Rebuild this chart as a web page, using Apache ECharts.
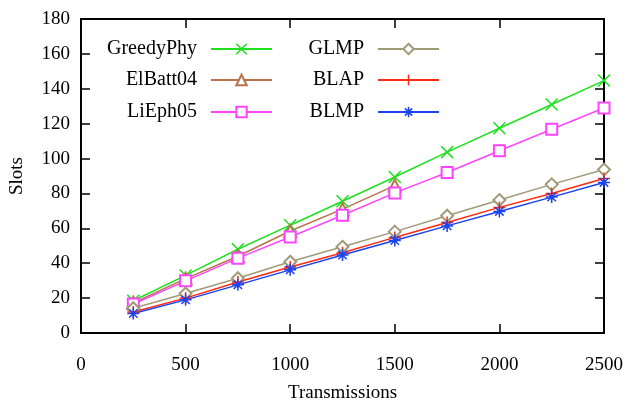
<!DOCTYPE html>
<html>
<head>
<meta charset="utf-8">
<script src="https://cdn.jsdelivr.net/npm/echarts@6/dist/echarts.min.js"></script>
<style>
html, body { margin: 0; padding: 0; background: #fff; }
#chart { width: 626px; height: 403px; }
</style>
</head>
<body>
<div id="chart"></div>
<script>
// x values (transmissions)
const transmissions = [250, 500, 750, 1000, 1250, 1500, 1750, 2000, 2250, 2500];

// slots per algorithm
const greedyPhy = [18.5, 33, 48, 61.8, 75.5, 89.4, 103.7, 117.4, 131, 144.7];
const elBatt04 = [17.3, 31.2, 44, 58.5, 71, 84.5];
const liEph05 = [16.6, 29.9, 42.9, 55, 67.5, 80.3, 92, 104.5, 116.8, 129];
const glmp = [14.2, 22.6, 31.4, 40.8, 49.4, 58.1, 67.2, 76.2, 85.2, 93.7];
const blap = [12, 20, 29.2, 37.8, 46, 54.8, 63.3, 72, 80, 88.6];
const blmp = [11.2, 19, 27.6, 36.2, 44.7, 53, 61.4, 69.7, 77.9, 86.3];

const FONT = '"Liberation Serif", "DejaVu Serif", serif';

function pairs(vals) {
    return vals.map((v, i) => [transmissions[i], v]);
}

function mkSeries(name, vals, color, symbol, size) {
    return {
        name: name,
        type: 'line',
        data: pairs(vals),
        symbol: symbol,
        symbolSize: size,
        showAllSymbol: true,
        lineStyle: { color: color, width: 1.5 },
        itemStyle: { color: color, borderColor: color, borderWidth: 1.5 },
        emphasis: { disabled: true },
        animation: false
    };
}

// legend: one per entry, text right-aligned before the line sample
function mkLegend(name, right, top) {
    return {
        data: [name],
        right: right,
        top: top,
        padding: 0,
        align: 'right',
        itemWidth: 61,
        itemHeight: 13,
        itemStyle: { borderWidth: 1.5 },
        textStyle: { fontFamily: FONT, fontSize: 20, color: '#000', padding: [0, 9, 0, 0] }
    };
}

function axis(extra) {
    return Object.assign({
        show: true,
        type: 'value',
        axisLine: { show: true, onZero: false, lineStyle: { color: '#000', width: 2 } },
        axisTick: { show: true, inside: true, length: 9, lineStyle: { color: '#000', width: 1.5 } },
        splitLine: { show: false }
    }, extra);
}

const gridBox = { left: 81, right: 22, top: 19, bottom: 70, outerBoundsMode: 'none' };

let myChart = echarts.init(document.getElementById('chart'));

myChart.setOption({
    animation: false,
    backgroundColor: '#fff',
    grid: [
        Object.assign({ show: true, borderColor: '#000', borderWidth: 2 }, gridBox),
        // second grid on the same box, only for the mirrored top/right ticks
        Object.assign({ show: false }, gridBox)
    ],
    legend: [
        mkLegend('GreedyPhy', 353, 39),
        mkLegend('ElBatt04', 353, 70),
        mkLegend('LiEph05', 353, 102),
        mkLegend('GLMP', 186, 39),
        mkLegend('BLAP', 186, 70),
        mkLegend('BLMP', 186, 102)
    ],
    xAxis: [
        axis({
            gridIndex: 0, position: 'bottom',
            min: 0, max: 2500, interval: 500,
            name: 'Transmissions', nameLocation: 'middle', nameGap: 51,
            nameTextStyle: { fontFamily: FONT, fontSize: 19, color: '#000' },
            axisLabel: { fontFamily: FONT, fontSize: 19, color: '#000', margin: 23, formatter: v => String(v) }
        }),
        axis({
            gridIndex: 1, position: 'top',
            min: 0, max: 2500, interval: 500,
            axisLabel: { show: false }
        })
    ],
    yAxis: [
        axis({
            gridIndex: 0, position: 'left',
            min: 0, max: 180, interval: 20,
            name: 'Slots', nameLocation: 'middle', nameGap: 54, nameRotate: 90,
            nameTextStyle: { fontFamily: FONT, fontSize: 19, color: '#000' },
            axisLabel: { fontFamily: FONT, fontSize: 19, color: '#000', margin: 11, formatter: v => String(v) }
        }),
        axis({
            gridIndex: 1, position: 'right',
            min: 0, max: 180, interval: 20,
            axisLabel: { show: false }
        })
    ],
    series: [
        mkSeries('GreedyPhy', greedyPhy, '#1ee01e', 'path://M0,0L10,10M10,0L0,10', 12),
        mkSeries('ElBatt04', elBatt04, '#b8734a', 'emptyTriangle', 12),
        mkSeries('LiEph05', liEph05, '#ff44ff', 'emptyRect', 11),
        mkSeries('GLMP', glmp, '#a09a78', 'emptyDiamond', 12),
        mkSeries('BLAP', blap, '#ff2a10', 'path://M5,0L5,10M0,5L10,5', 12),
        mkSeries('BLMP', blmp, '#1a44f0', 'path://M5,0L5,10M0,5L10,5M1.5,1.5L8.5,8.5M8.5,1.5L1.5,8.5', 12),
        // invisible copy so the mirrored axes are in use
        {
            name: '_mirror', type: 'line', xAxisIndex: 1, yAxisIndex: 1,
            data: pairs(greedyPhy), showSymbol: false, silent: true,
            lineStyle: { opacity: 0 }
        }
    ]
});
</script>
</body>
</html>
